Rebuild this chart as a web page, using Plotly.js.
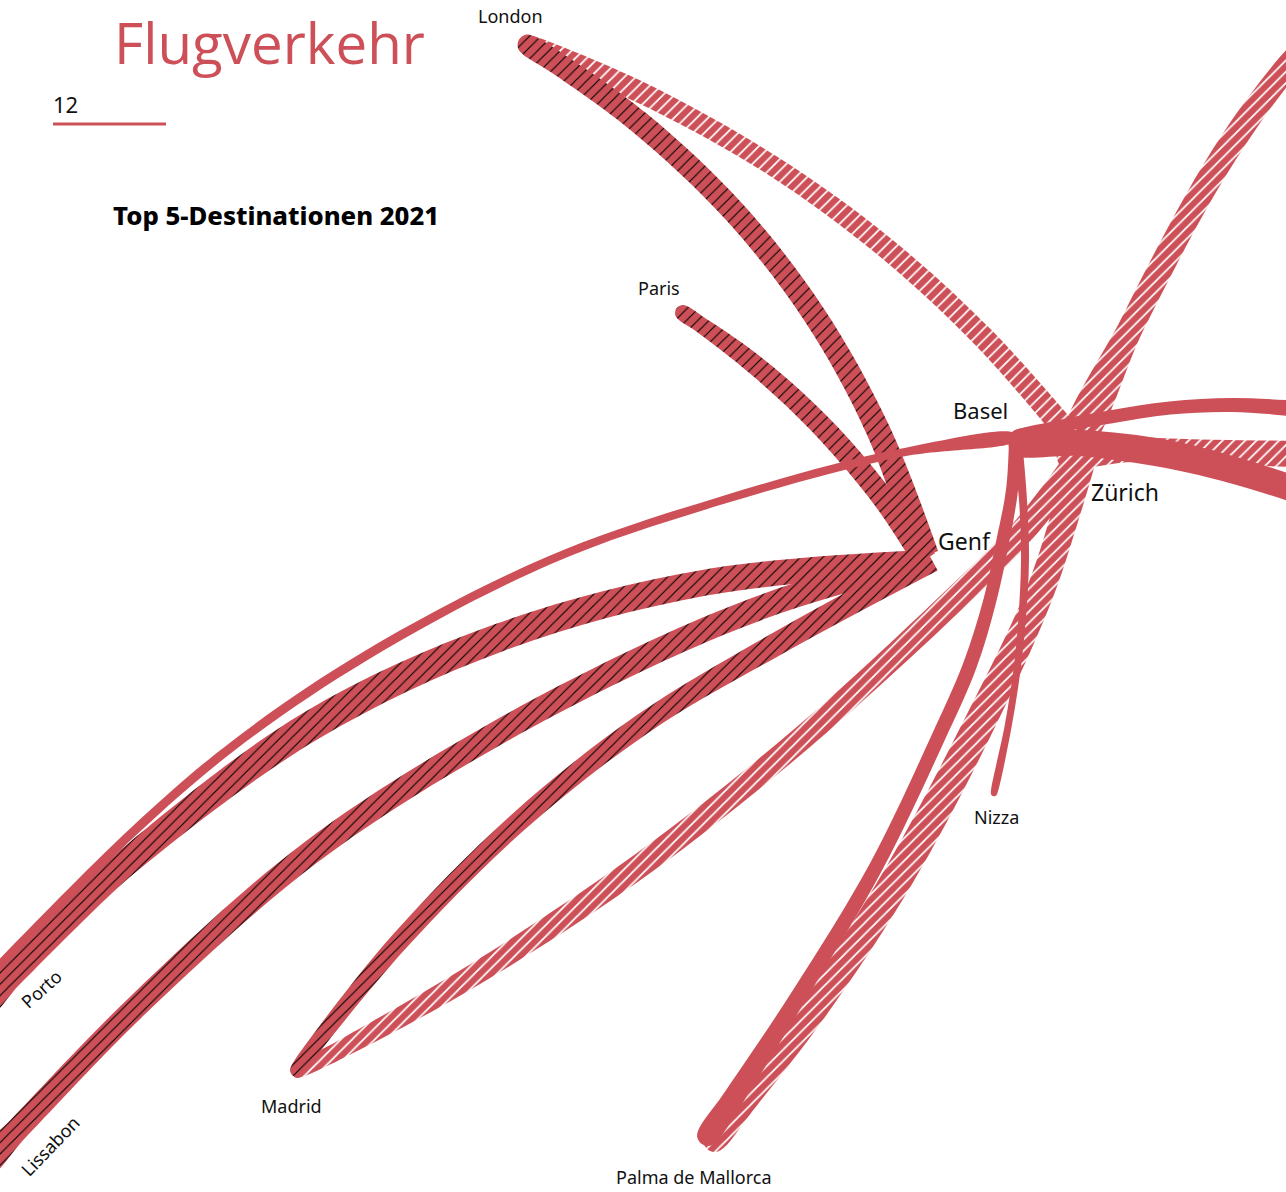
<!DOCTYPE html>
<html><head><meta charset="utf-8">
<script src="https://cdn.plot.ly/plotly-3.0.1.min.js"></script>
<style>html,body{margin:0;padding:0;background:#fff}</style></head>
<body><div id="chart" style="width:1286px;height:1192px"></div>
<script>
const RED = '#cd5058';
// Route ribbons: waypoint x, y and ribbon thickness at each waypoint
const zrhLondonX = [528,560.7,655.4,773.9,883.3,983.6,1075];
const zrhLondonY = [45,57.5,99.6,166.5,245.9,337.8,442];
const zrhLondonW = [20,21,21,20,21,22,24];
const zrhMadridX = [298,343.6,476.4,644.3,801.7,948.6,1022,1085];
const zrhMadridY = [1071,1047.9,973.4,862.6,738.4,605,532,450];
const zrhMadridW = [14,18,22,24,24,25,25,26];
const zrhPalmaX = [715,738.8,811.6,898.6,973.6,1037,1066,1088];
const zrhPalmaY = [1140,1107.6,1010.8,876.3,735.5,600,513,435];
const zrhPalmaW = [24,26,29,31,31,28,28,30];
const zrhNorthX = [1075,1133,1200,1245,1283,1310];
const zrhNorthY = [445,323,195,123,72,40];
const zrhNorthW = [25,25,25,25,24,24];
const zrhEastX = [1060,1133,1200,1300];
const zrhEastY = [455,450,452,454];
const zrhEastW = [22,24,25,26];

const gvaLondonX = [528,557.3,639.3,734.6,814,877.5,925];
const gvaLondonY = [45,63.2,122.4,212.3,314.5,429,556];
const gvaLondonW = [21,22,23,23,23,24,28];
const gvaParisX = [683,697.8,740.5,793.5,841.9,885.7,925];
const gvaParisY = [313,322.7,353.4,398.4,447.8,501.6,560];
const gvaParisW = [16,16,19,21,22,22,24];
const gvaPortoX = [-20,10,67,133,310.4,499.4,704.3,925];
const gvaPortoY = [1005,975,918,857,726.1,637.5,582.8,562];
const gvaPortoW = [27,27,27,27,30,28,26,24];
const gvaLissabonX = [-20,17.8,137,310,499,704,830,925];
const gvaLissabonY = [1168,1129,1006,853,732,630,585,565];
const gvaLissabonW = [23,23,23,24,24,24,24,22];
const gvaMadridX = [297,321.8,400.8,515.9,642.5,780,932];
const gvaMadridY = [1070,1036.2,939.9,824.1,724,642,560];
const gvaMadridW = [14,16,19,20,21,23,24];

const bslPortoX = [1015,900,723,550,367,233,133,0,-20];
const bslPortoY = [437,453,500,560,655,746,832,965,986];
const bslPortoW = [8,8,8,8,9,9,9,9,9];
const bslPalmaX = [708,732,800,877,938,970,990,1003,1012,1015];
const bslPalmaY = [1135,1100,994,865,738,665,600,540,490,440];
const bslPalmaW = [22,21,16,14,14,14,13,13,12,12];
const bslNizzaX = [994,1008,1017,1022,1025,1023,1017];
const bslNizzaY = [793,727,670,620,560,500,440];
const bslNizzaW = [6.5,7,7,7.5,8,8,10];
const bslEastUpX = [1012,1060,1110,1170,1233,1300];
const bslEastUpY = [438,426,417,408,405,409];
const bslEastUpW = [9,12,13,13,14,16];
const bslEastLowX = [1012,1080,1167,1233,1300];
const bslEastLowY = [443,443,454,470,491];
const bslEastLowW = [22,26,28,27,26];

// Labels
const labelText = ['London','Paris','Basel','Zürich','Genf','Nizza','Madrid','Palma de Mallorca','Porto','Lissabon'];
const labelX = [510,659,980,1125,964,996,291,694,41,50];
const labelY = [16,288,410,492,541,817,1106,1177,989,1146];
const labelSize = [18,18,22,23,23,18,18,18,18,18];
const labelAngle = [0,0,0,0,0,0,0,0,-42,-46];

function outline(xs, ys, ws, capped) {
  const n = xs.length, L = [], R = [], nx = [], ny = [];
  for (let i = 0; i < n; i++) {
    const a = Math.max(i-1,0), b = Math.min(i+1,n-1);
    const dx = xs[b]-xs[a], dy = ys[b]-ys[a], d = Math.hypot(dx,dy);
    nx.push(-dy/d); ny.push(dx/d);
    L.push([xs[i]+nx[i]*ws[i]/2, ys[i]+ny[i]*ws[i]/2]);
    R.push([xs[i]-nx[i]*ws[i]/2, ys[i]-ny[i]*ws[i]/2]);
  }
  const cap = [];
  if (capped) {
    const r = ws[0]/2, tx = ny[0], ty = -nx[0];
    for (const f of [0.25,0.5,0.75]) {
      const t = f*Math.PI;
      cap.push([xs[0]-nx[0]*r*Math.cos(t)-tx*r*Math.sin(t), ys[0]-ny[0]*r*Math.cos(t)-ty*r*Math.sin(t)]);
    }
  }
  const poly = [...L.slice().reverse(), ...cap.slice().reverse(), ...R];
  return {x: poly.map(p=>p[0]), y: poly.map(p=>p[1])};
}
function ribbon(xs, ys, ws, kind, capped) {
  const o = outline(xs, ys, ws, capped);
  const t = {type:'scatter', mode:'lines', x:o.x, y:o.y, fill:'toself', fillcolor:RED,
    line:{width:0, color:RED, shape:'spline', smoothing:1, simplify:false}, hoverinfo:'skip', showlegend:false};
  if (kind === 'black') t.fillpattern = {shape:'/', size:8, solidity:0.14, fgcolor:'#000', bgcolor:RED, fgopacity:1};
  if (kind === 'white') t.fillpattern = {shape:'/', size:8, solidity:0.22, fgcolor:'#fff', bgcolor:RED, fgopacity:1};
  return t;
}
const data = [
  ribbon(zrhLondonX,zrhLondonY,zrhLondonW,'white',true),
  ribbon(zrhMadridX,zrhMadridY,zrhMadridW,'white',true),
  ribbon(zrhPalmaX,zrhPalmaY,zrhPalmaW,'white',true),
  ribbon(zrhNorthX,zrhNorthY,zrhNorthW,'white',false),
  ribbon(zrhEastX,zrhEastY,zrhEastW,'white',false),
  ribbon(gvaLondonX,gvaLondonY,gvaLondonW,'black',true),
  ribbon(gvaParisX,gvaParisY,gvaParisW,'black',true),
  ribbon(gvaPortoX,gvaPortoY,gvaPortoW,'black',false),
  ribbon(gvaLissabonX,gvaLissabonY,gvaLissabonW,'black',false),
  ribbon(gvaMadridX,gvaMadridY,gvaMadridW,'black',true),
  ribbon(bslPortoX,bslPortoY,bslPortoW,'solid',false),
  ribbon(bslPalmaX,bslPalmaY,bslPalmaW,'solid',true),
  ribbon(bslNizzaX,bslNizzaY,bslNizzaW,'solid',true),
  ribbon(bslEastUpX,bslEastUpY,bslEastUpW,'solid',false),
  ribbon(bslEastLowX,bslEastLowY,bslEastLowW,'solid',false)
];
const F = 'Noto Sans';
const annotations = labelText.map((t,i)=>({text:t, x:labelX[i], y:labelY[i], xref:'x', yref:'y', showarrow:false,
  xanchor:'center', yanchor:'middle', textangle:labelAngle[i], font:{family:F, size:labelSize[i], color:'#111'}}));
annotations.push(
  {text:'Flugverkehr', x:112, y:42, xref:'x', yref:'y', showarrow:false, xanchor:'left', yanchor:'middle', font:{family:'Open Sans', size:56.5, color:RED, weight:400}},
  {text:'12', x:51, y:104, xref:'x', yref:'y', showarrow:false, xanchor:'left', yanchor:'middle', font:{family:F, size:22, color:'#111', weight:400}},
  {text:'Top 5-Destinationen 2021', x:111, y:215, xref:'x', yref:'y', showarrow:false, xanchor:'left', yanchor:'middle', font:{family:F, size:25.7, color:'#000', weight:800}}
);
Plotly.newPlot('chart', data, {
  width:1286, height:1192, margin:{l:0,r:0,t:0,b:0}, paper_bgcolor:'#fff', plot_bgcolor:'#fff',
  xaxis:{range:[0,1286], visible:false, fixedrange:true},
  yaxis:{range:[1192,0], visible:false, fixedrange:true},
  showlegend:false, annotations,
  shapes:[{type:'line', xref:'x', yref:'y', x0:53, x1:166, y0:124, y1:124, line:{color:RED, width:3}}]
}, {displayModeBar:false, staticPlot:true});
</script></body></html>
